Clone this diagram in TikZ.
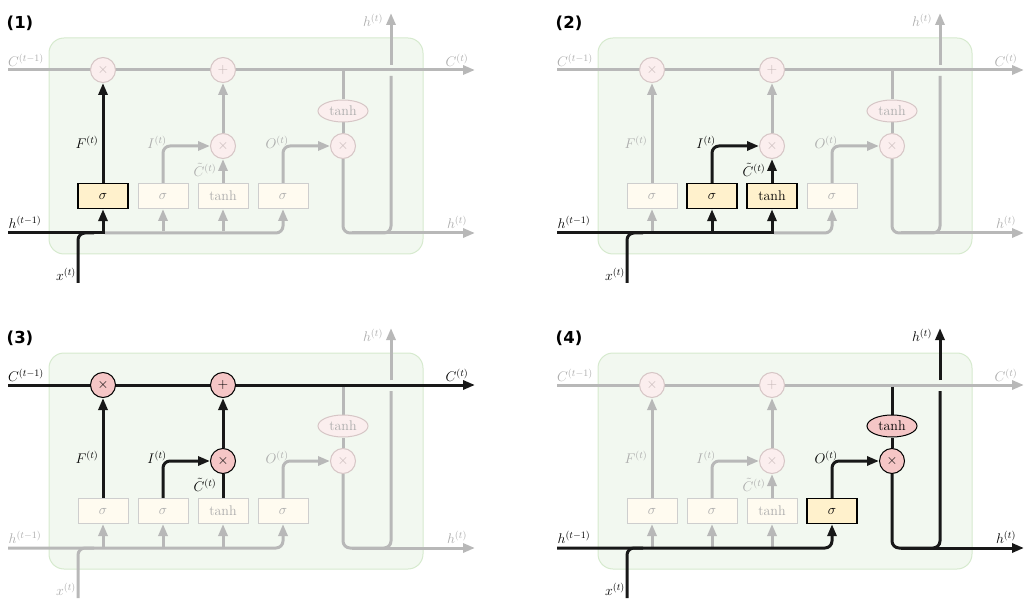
\documentclass[tikz,border=0pt]{standalone}
\usepackage{fix-cm}
\usepackage{fontspec}
\newfontfamily\labfont{DejaVu Sans}
\usetikzlibrary{arrows.meta,shapes.geometric}
\pgfdeclarelayer{rectlayer}
\pgfdeclarelayer{lines}
\pgfsetlayers{rectlayer,lines,main}
\definecolor{lgray}{RGB}{184,184,184}
\definecolor{tgray}{RGB}{172,172,172}
\definecolor{cfill}{RGB}{251,238,238}
\definecolor{cdraw}{RGB}{214,198,198}
\definecolor{ctext}{RGB}{196,182,182}
\definecolor{afill}{RGB}{245,198,198}
\definecolor{bfillg}{RGB}{255,251,240}
\definecolor{bdrawg}{RGB}{206,206,206}
\definecolor{bfilla}{RGB}{255,241,204}
\definecolor{gfill}{RGB}{242,248,240}
\definecolor{gdraw}{RGB}{214,234,206}
\definecolor{blk}{RGB}{24,24,24}
\tikzset{
  fnt/.style={font=\fontsize{14}{16}\selectfont},
  gl/.style={draw=lgray,line width=3pt},
  bl/.style={draw=blk,line width=3pt},
  arr/.style={-{Triangle[length=12pt,width=9pt]}},
  rc/.style={rounded corners=7pt},
  gcirc/.style={circle,fnt,minimum size=25pt,inner sep=0pt,draw=cdraw,fill=cfill,text=ctext,line width=1pt},
  acirc/.style={circle,fnt,minimum size=25pt,inner sep=0pt,draw=black,fill=afill,text=black,line width=1pt},
  gbox/.style={rectangle,fnt,minimum width=50pt,minimum height=25pt,inner sep=0pt,draw=bdrawg,fill=bfillg,text=tgray,line width=1pt},
  abox/.style={rectangle,fnt,minimum width=50pt,minimum height=25pt,inner sep=0pt,draw=black,fill=bfilla,text=black,line width=1.3pt},
  gell/.style={ellipse,fnt,minimum width=50pt,minimum height=22pt,inner sep=0pt,draw=cdraw,fill=cfill,text=tgray,line width=1pt},
  aell/.style={ellipse,fnt,minimum width=50pt,minimum height=22pt,inner sep=0pt,draw=black,fill=afill,text=black,line width=1pt},
  glab/.style={fnt,text=tgray,inner sep=0pt},
  alab/.style={fnt,text=black,inner sep=0pt},
  cellbg/.style={rounded corners=15pt,fill=gfill,draw=gdraw,line width=1pt},
  plab/.style={font=\labfont\bfseries\fontsize{16.5}{18}\selectfont,text=black,inner sep=0pt},
  fxS/.style={gcirc}, plS/.style={gcirc}, ixS/.style={gcirc}, oxS/.style={gcirc},
  thS/.style={gell},
  bfS/.style={gbox}, biS/.style={gbox}, bcS/.style={gbox}, boS/.style={gbox},
  LCin/.style={glab}, LCout/.style={glab}, LHin/.style={glab}, LHout/.style={glab},
  LHtop/.style={glab}, LX/.style={glab}, LF/.style={glab}, LI/.style={glab},
  LO/.style={glab}, LCt/.style={glab},
}
\newcommand\cellnodes[1]{%
  \begin{pgfonlayer}{rectlayer}
    \draw[cellbg] (49,38) rectangle (423,254);
  \end{pgfonlayer}
  \node[plab] (num) at (20,23) {(#1)};
  \coordinate (cin) at (8,70);
  \coordinate (cout) at (475,70);
  \coordinate (cj) at (343,71.5);
  \coordinate (hin) at (8,233);
  \coordinate (hout) at (475,233);
  \coordinate (xin) at (78,283);
  \coordinate (xj) at (94,233);
  \coordinate (b1) at (103,231.5);
  \coordinate (b2) at (163,231.5);
  \coordinate (b3) at (223,231.5);
  \coordinate (j1) at (104.5,233);
  \coordinate (j3) at (224.5,233);
  \coordinate (hj) at (391,233);
  \coordinate (hk) at (352,233);
  \coordinate (hgapB) at (391,76);
  \coordinate (hgapT) at (391,65);
  \coordinate (htop) at (391,13);
  \node[fxS] (fx) at (103,70) {$\times$};
  \node[plS] (pl) at (223,70) {$+$};
  \node[ixS] (ix) at (223,146) {$\times$};
  \node[oxS] (ox) at (343,146) {$\times$};
  \node[thS] (th) at (343,111) {$\tanh$};
  \node[bfS] (bf) at (103,196) {$\sigma$};
  \node[biS] (bi) at (163,196) {$\sigma$};
  \node[bcS] (bc) at (223,196) {$\tanh$};
  \node[boS] (bo) at (283,196) {$\sigma$};
  \node[LCin] (lCin) at (26,60) {$C^{(t-1)}$};
  \node[LCout] (lCout) at (457,60) {$C^{(t)}$};
  \node[LHin] (lHin) at (25,222) {$h^{(t-1)}$};
  \node[LHout] (lHout) at (457,222) {$h^{(t)}$};
  \node[LHtop] (lHtop) at (373,20) {$h^{(t)}$};
  \node[LX] (lX) at (66,274) {$x^{(t)}$};
  \node[LF] (lF) at (87,142) {$F^{(t)}$};
  \node[LI] (lI) at (157,142) {$I^{(t)}$};
  \node[LO] (lO) at (277,142) {$O^{(t)}$};
  \node[LCt] (lCt) at (205,170) {$\tilde{C}^{(t)}$};
}
\begin{document}
\begin{tikzpicture}[x=1pt,y=-1pt]
\useasboundingbox (0,0) rectangle (1033,612);
% ---------- panel 1 : forget gate ----------
\begin{scope}[name prefix=p1-, bfS/.style={abox}, LHin/.style={alab}, LX/.style={alab}, LF/.style={alab}]
  \cellnodes{1}
  \begin{pgfonlayer}{lines}
    \draw[gl,arr] (cin) -- (cout);
    \draw[gl,arr,rc] (j1) -| (bo.south);
    \draw[gl,arr] (b2) -- (bi.south);
    \draw[gl,arr] (b3) -- (bc.south);
    \draw[gl,arr,rc] (bi.north) |- (ix.west);
    \draw[gl,arr] (bc.north) -- (ix.south);
    \draw[gl,arr] (ix.north) -- (pl.south);
    \draw[gl,arr,rc] (bo.north) |- (ox.west);
    \draw[gl] (cj) -- (th.north);
    \draw[gl] (th.south) -- (ox.north);
    \draw[gl,rc] (ox.south) |- (hj) -- (hgapB);
    \draw[gl,arr] (hk) -- (hout);
    \draw[gl,arr] (hgapT) -- (htop);
    \draw[bl,arr] (hin) -| (bf.south);
    \draw[bl,rc] (xin) |- (xj);
    \draw[bl,arr] (bf.north) -- (fx.south);
  \end{pgfonlayer}
\end{scope}
% ---------- panel 2 : input gate ----------
\begin{scope}[shift={(549,0)}, name prefix=p2-, biS/.style={abox}, bcS/.style={abox}, LHin/.style={alab}, LX/.style={alab}, LI/.style={alab}, LCt/.style={alab}]
  \cellnodes{2}
  \begin{pgfonlayer}{lines}
    \draw[gl,arr] (cin) -- (cout);
    \draw[gl,arr] (b1) -- (bf.south);
    \draw[gl,arr,rc] (j3) -| (bo.south);
    \draw[gl,arr] (bf.north) -- (fx.south);
    \draw[gl,arr] (ix.north) -- (pl.south);
    \draw[gl,arr,rc] (bo.north) |- (ox.west);
    \draw[gl] (cj) -- (th.north);
    \draw[gl] (th.south) -- (ox.north);
    \draw[gl,rc] (ox.south) |- (hj) -- (hgapB);
    \draw[gl,arr] (hk) -- (hout);
    \draw[gl,arr] (hgapT) -- (htop);
    \draw[bl,arr] (hin) -| (bc.south);
    \draw[bl,arr] (b2) -- (bi.south);
    \draw[bl,rc] (xin) |- (xj);
    \draw[bl,arr,rc] (bi.north) |- (ix.west);
    \draw[bl,arr] (bc.north) -- (ix.south);
  \end{pgfonlayer}
\end{scope}
% ---------- panel 3 : cell state update ----------
\begin{scope}[shift={(0,315)}, name prefix=p3-, fxS/.style={acirc}, plS/.style={acirc}, ixS/.style={acirc}, LCin/.style={alab}, LCout/.style={alab}, LF/.style={alab}, LI/.style={alab}, LCt/.style={alab}]
  \cellnodes{3}
  \begin{pgfonlayer}{lines}
    \draw[gl,arr,rc] (hin) -| (bo.south);
    \draw[gl,arr] (b1) -- (bf.south);
    \draw[gl,arr] (b2) -- (bi.south);
    \draw[gl,arr] (b3) -- (bc.south);
    \draw[gl,rc] (xin) |- (xj);
    \draw[gl,arr,rc] (bo.north) |- (ox.west);
    \draw[gl] (cj) -- (th.north);
    \draw[gl] (th.south) -- (ox.north);
    \draw[gl,rc] (ox.south) |- (hj) -- (hgapB);
    \draw[gl,arr] (hk) -- (hout);
    \draw[gl,arr] (hgapT) -- (htop);
    \draw[bl,arr] (cin) -- (cout);
    \draw[bl,arr] (bf.north) -- (fx.south);
    \draw[bl,arr,rc] (bi.north) |- (ix.west);
    \draw[bl] (bc.north) -- (ix.south);
    \draw[bl,arr] (ix.north) -- (pl.south);
  \end{pgfonlayer}
\end{scope}
% ---------- panel 4 : output gate ----------
\begin{scope}[shift={(549,315)}, name prefix=p4-, boS/.style={abox}, oxS/.style={acirc}, thS/.style={aell}, LHin/.style={alab}, LX/.style={alab}, LO/.style={alab}, LHout/.style={alab}, LHtop/.style={alab}]
  \cellnodes{4}
  \begin{pgfonlayer}{lines}
    \draw[gl,arr] (cin) -- (cout);
    \draw[gl,arr] (b1) -- (bf.south);
    \draw[gl,arr] (b2) -- (bi.south);
    \draw[gl,arr] (b3) -- (bc.south);
    \draw[gl,arr] (bf.north) -- (fx.south);
    \draw[gl,arr,rc] (bi.north) |- (ix.west);
    \draw[gl,arr] (bc.north) -- (ix.south);
    \draw[gl,arr] (ix.north) -- (pl.south);
    \draw[bl,arr,rc] (hin) -| (bo.south);
    \draw[bl,rc] (xin) |- (xj);
    \draw[bl,arr,rc] (bo.north) |- (ox.west);
    \draw[bl] (cj) -- (th.north);
    \draw[bl] (th.south) -- (ox.north);
    \draw[bl,rc] (ox.south) |- (hj) -- (hgapB);
    \draw[bl,arr] (hk) -- (hout);
    \draw[bl,arr] (hgapT) -- (htop);
  \end{pgfonlayer}
\end{scope}
\end{tikzpicture}
\end{document}
